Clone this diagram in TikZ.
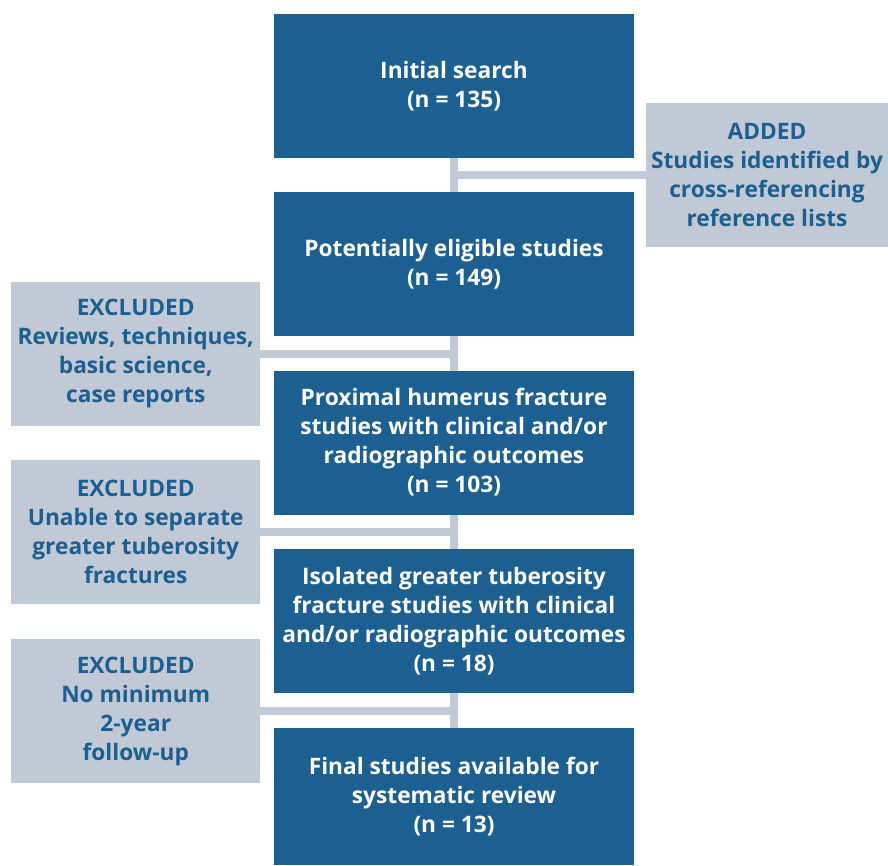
\documentclass[tikz,border=0pt]{standalone}
\usepackage{fontspec}
\setmainfont{Open Sans}
\usetikzlibrary{backgrounds}
\definecolor{boxblue}{RGB}{28,95,145}
\definecolor{boxgray}{RGB}{194,201,214}
\tikzset{
  mainbox/.style={fill=boxblue, text=white, align=center, inner sep=0pt,
    minimum width=360pt, minimum height=144pt,
    font=\fontsize{22.7}{29}\selectfont\bfseries},
  sidebox/.style={fill=boxgray, text=boxblue, align=center, inner sep=0pt,
    minimum width=249pt, minimum height=144pt,
    font=\fontsize{22.7}{29}\selectfont\bfseries},
  link/.style={draw=boxgray, line width=8pt}
}
\begin{document}
\begin{tikzpicture}[x=1pt, y=-1pt]
      \useasboundingbox (0,0) rectangle (888,865);
      \node[mainbox] (search) at (454,86) {Initial search\\(n = 135)};
      \node[mainbox] (eligible) at (454,264) {Potentially eligible studies\\(n = 149)};
      \node[mainbox] (proximal) at (454,442.5) {Proximal humerus fracture\\studies with clinical and/or\\radiographic outcomes\\(n = 103)};
      \node[mainbox] (isolated) at (454,621) {Isolated greater tuberosity\\fracture studies with clinical\\and/or radiographic outcomes\\(n = 18)};
      \node[mainbox, minimum height=137pt] (final) at (454,796.5) {Final studies available for\\systematic review\\(n = 13)};
      \node[sidebox, minimum width=242pt] (added) at (767,175) {ADDED\\Studies identified by\\cross-referencing\\reference lists};
      \node[sidebox] (reviews) at (135.75,353.7) {EXCLUDED\\Reviews, techniques,\\basic science,\\case reports};
      \node[sidebox] (separate) at (135.75,532) {EXCLUDED\\Unable to separate\\greater tuberosity\\fractures};
      \node[sidebox] (minimum) at (135.75,711) {EXCLUDED\\No minimum\\2-year\\follow-up};
      \begin{scope}[on background layer]
        \draw[link] (search.center) to (final.center);
        \draw[link] (search.center |- added.west) to (added.west);
        \draw[link] (reviews.east) to (reviews.east -| search.center);
        \draw[link] (separate.east) to (separate.east -| search.center);
        \draw[link] (minimum.east) to (minimum.east -| search.center);
      \end{scope}
    \end{tikzpicture}
\end{document}
